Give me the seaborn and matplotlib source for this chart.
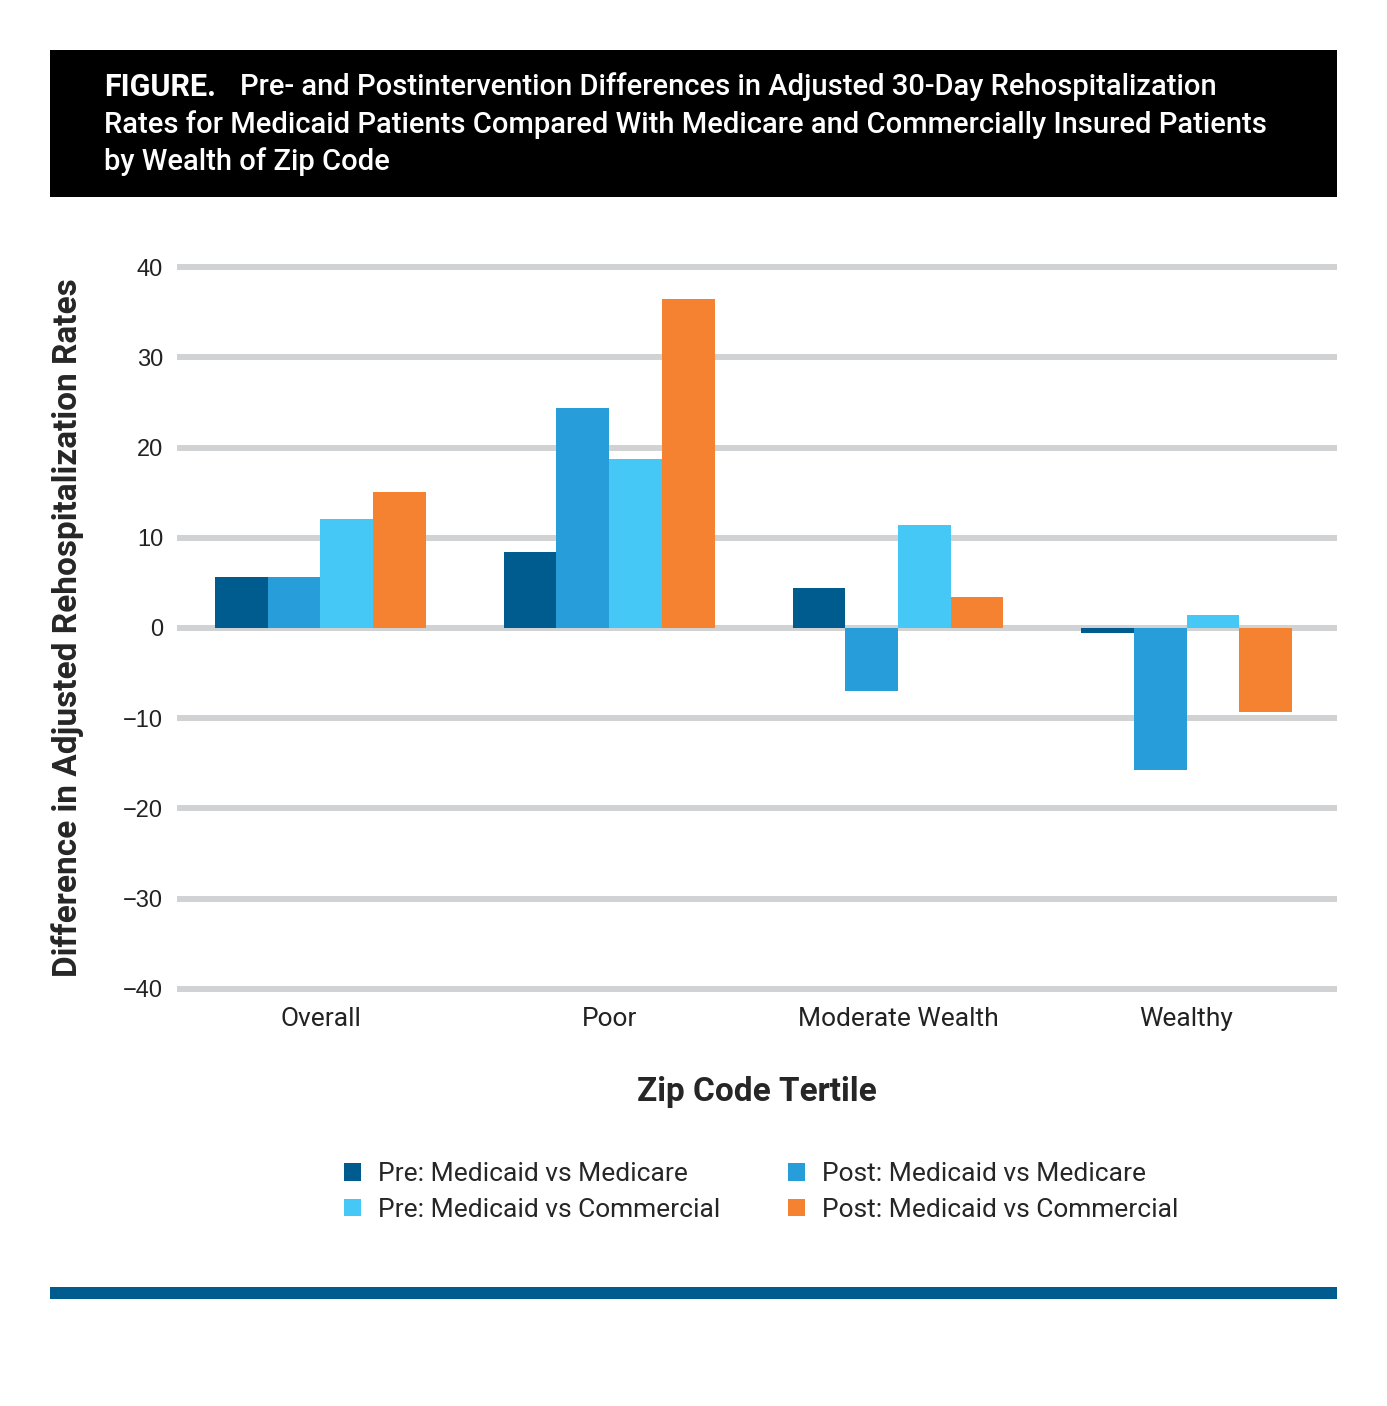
import pandas as pd
import matplotlib.pyplot as plt
import seaborn as sns
from matplotlib.patches import Rectangle

# values
tertiles = ['Overall', 'Poor', 'Moderate Wealth', 'Wealthy']
series_names = ['Pre: Medicaid vs Medicare', 'Post: Medicaid vs Medicare',
                'Pre: Medicaid vs Commercial', 'Post: Medicaid vs Commercial']
pre_medicare = [5.7, 8.4, 4.4, -0.6]
post_medicare = [5.7, 24.4, -7.0, -15.7]
pre_commercial = [12.1, 18.7, 11.4, 1.4]
post_commercial = [15.1, 36.5, 3.4, -9.3]
colors = ['#005b8f', '#279dd9', '#45c8f5', '#f58231']
yticks = [-40, -30, -20, -10, 0, 10, 20, 30, 40]

df = pd.DataFrame({
    'tertile': tertiles * 4,
    'series': [s for s in series_names for _ in tertiles],
    'value': pre_medicare + post_medicare + pre_commercial + post_commercial,
})

sns.set_theme(style='white')
plt.rcParams['font.family'] = ['Roboto', 'DejaVu Sans']

W, H = 1387, 1406
fig = plt.figure(figsize=(W / 100, H / 100), dpi=100)

def fx(px):
    return px / W

def fy(py):
    return 1 - py / H

# black header box and blue footer rule
fig.patches.append(Rectangle((fx(50), fy(197)), fx(1337) - fx(50), fy(50) - fy(197),
                             transform=fig.transFigure, facecolor='black', edgecolor='none'))
fig.patches.append(Rectangle((fx(50), fy(1299)), fx(1337) - fx(50), fy(1287) - fy(1299),
                             transform=fig.transFigure, facecolor='#005b8f', edgecolor='none'))

fig.text(fx(104), fy(87), 'FIGURE.', color='white', fontsize=22, fontweight='bold',
         va='center', ha='left')
fig.text(fx(240), fy(87), 'Pre- and Postintervention Differences in Adjusted 30-Day Rehospitalization',
         color='white', fontsize=21, fontweight='medium', va='center', ha='left')
fig.text(fx(104), fy(125), 'Rates for Medicaid Patients Compared With Medicare and Commercially Insured Patients',
         color='white', fontsize=21, fontweight='medium', va='center', ha='left')
fig.text(fx(104), fy(162), 'by Wealth of Zip Code', color='white', fontsize=21,
         fontweight='medium', va='center', ha='left')

ax = fig.add_axes([fx(177), fy(993.5), fx(1337) - fx(177), (993.5 - 262.5) / H])
sns.barplot(data=df, x='tertile', y='value', hue='series', order=tertiles,
            hue_order=series_names, palette=colors, saturation=1, width=0.73,
            linewidth=0, errorbar=None, ax=ax, legend=True)

ax.set_ylim(-40.5, 40.5)
ax.set_xlim(-0.497, 3.521)
ax.set_yticks(yticks)
ax.set_yticklabels([str(t).replace('-', '\u2212') for t in yticks],
                   family=['Liberation Sans', 'DejaVu Sans'], fontsize=17, color='#222222')
ax.tick_params(axis='y', length=0, pad=10)
ax.tick_params(axis='x', length=0, pad=10, labelsize=19, labelcolor='#222222')
ax.yaxis.grid(True, color='#d1d2d4', linewidth=4.3)
ax.set_axisbelow(True)
sns.despine(ax=ax, left=True, bottom=True)

ax.set_xlabel('Zip Code Tertile', fontsize=24, fontweight='bold', labelpad=32)
ax.set_ylabel('Difference in Adjusted Rehospitalization Rates', fontsize=24,
              fontweight='bold', labelpad=28)

handles, labels = ax.get_legend_handles_labels()
ax.get_legend().remove()
order = [0, 2, 1, 3]
fig.legend([handles[i] for i in order], [labels[i] for i in order], ncol=2,
           loc='center', bbox_to_anchor=(fx(761), fy(1192)), frameon=False,
           fontsize=19, handlelength=0.65, handleheight=0.65, handletextpad=0.65,
           columnspacing=2.55, labelspacing=0.45)

fig.savefig('out.png', dpi=100)
